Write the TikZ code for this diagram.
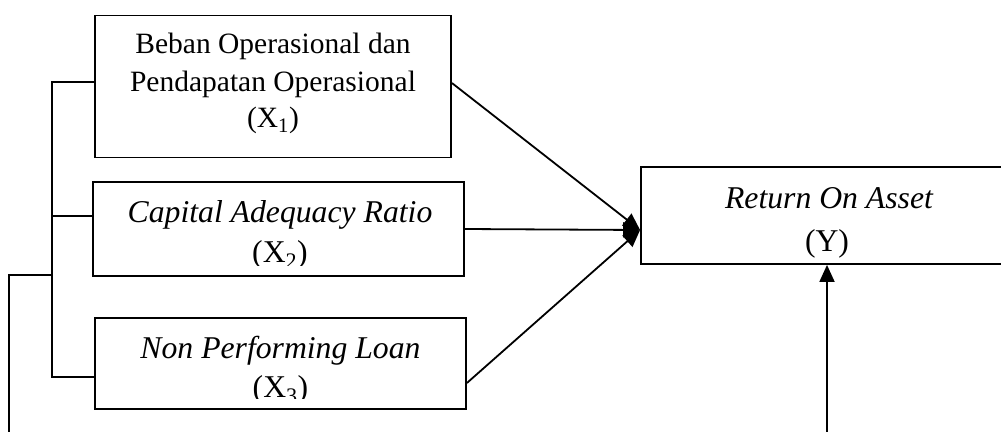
\documentclass[tikz,border=0pt]{standalone}
\usepackage{fontspec}
\setmainfont{Liberation Serif}
\usetikzlibrary{arrows.meta}
\tikzset{
  varbox/.style={draw=black, line width=1.8pt, inner sep=0pt, minimum width=#1},
  rmtext/.style={anchor=base, inner sep=0pt, font=\fontsize{29.5}{35}\selectfont},
  ittext/.style={anchor=base, inner sep=0pt, font=\fontsize{31.7}{38}\selectfont\itshape},
  ittextrm/.style={anchor=base, inner sep=0pt, font=\fontsize{31.7}{38}\selectfont},
  link/.style={draw=black, line width=1.8pt},
  arr/.style={draw=black, line width=1.8pt, -{Triangle[length=17pt,width=15pt]}}
}
\begin{document}
\begin{tikzpicture}[x=1pt,y=-1pt]
\useasboundingbox (0,0) rectangle (1001,431);
\clip (0,0) rectangle (1001,431);
% boxes
\node[varbox=356pt, minimum height=142pt] (b1) at (273,86.5) {};
\node[varbox=371pt, minimum height=94pt] (b2) at (278.5,229) {};
\node[varbox=371pt, minimum height=91pt] (b3) at (280.5,363.5) {};
\node[varbox=372pt, minimum height=97pt] (by) at (827,215.5) {};
% texts
\node[rmtext] (t1a) at (273,53.3) {Beban Operasional dan};
\node[rmtext] (t1b) at (273,91.7) {Pendapatan Operasional};
\node[rmtext] (t1c) at (273,127) {(X\textsubscript{1})};
\node[ittext] (t2a) at (280,222.7) {Capital Adequacy Ratio};
\begin{scope}
\clip (100,230) rectangle (460,265);
\node[ittextrm] (t2b) at (280,262) {(X\textsubscript{2})};
\end{scope}
\node[ittext] (t3a) at (280.5,358.3) {Non Performing Loan};
\begin{scope}
\clip (100,365) rectangle (460,398);
\node[ittextrm] (t3b) at (280.5,397) {(X\textsubscript{3})};
\end{scope}
\node[ittext] (tya) at (829,208) {Return On Asset};
\node[ittextrm] (tyb) at (827,251) {(Y)};
% bracket on the left
\coordinate (jn) at (52,275);
\coordinate (lb) at (9,435);
\draw[link] ([yshift=4.5pt]b1.west) -| ([yshift=-13.5pt]b3.west -| jn) -- ([yshift=-13.5pt]b3.west);
\draw[link] ([yshift=13pt]b2.west) -- ([yshift=13pt]b2.west -| jn);
\draw[link] (lb) |- (jn);
% arrows to Y
\coordinate (tip) at ([yshift=-14.5pt]by.west);
\draw[arr] ([yshift=3.5pt]b1.east) -- (tip);
\draw[arr] (b2.east) -- (tip);
\draw[arr] ([yshift=-19.5pt]b3.east) -- (tip);
\coordinate (yb) at (827,435);
\draw[arr] (yb) -- (by.south);
\end{tikzpicture}
\end{document}
